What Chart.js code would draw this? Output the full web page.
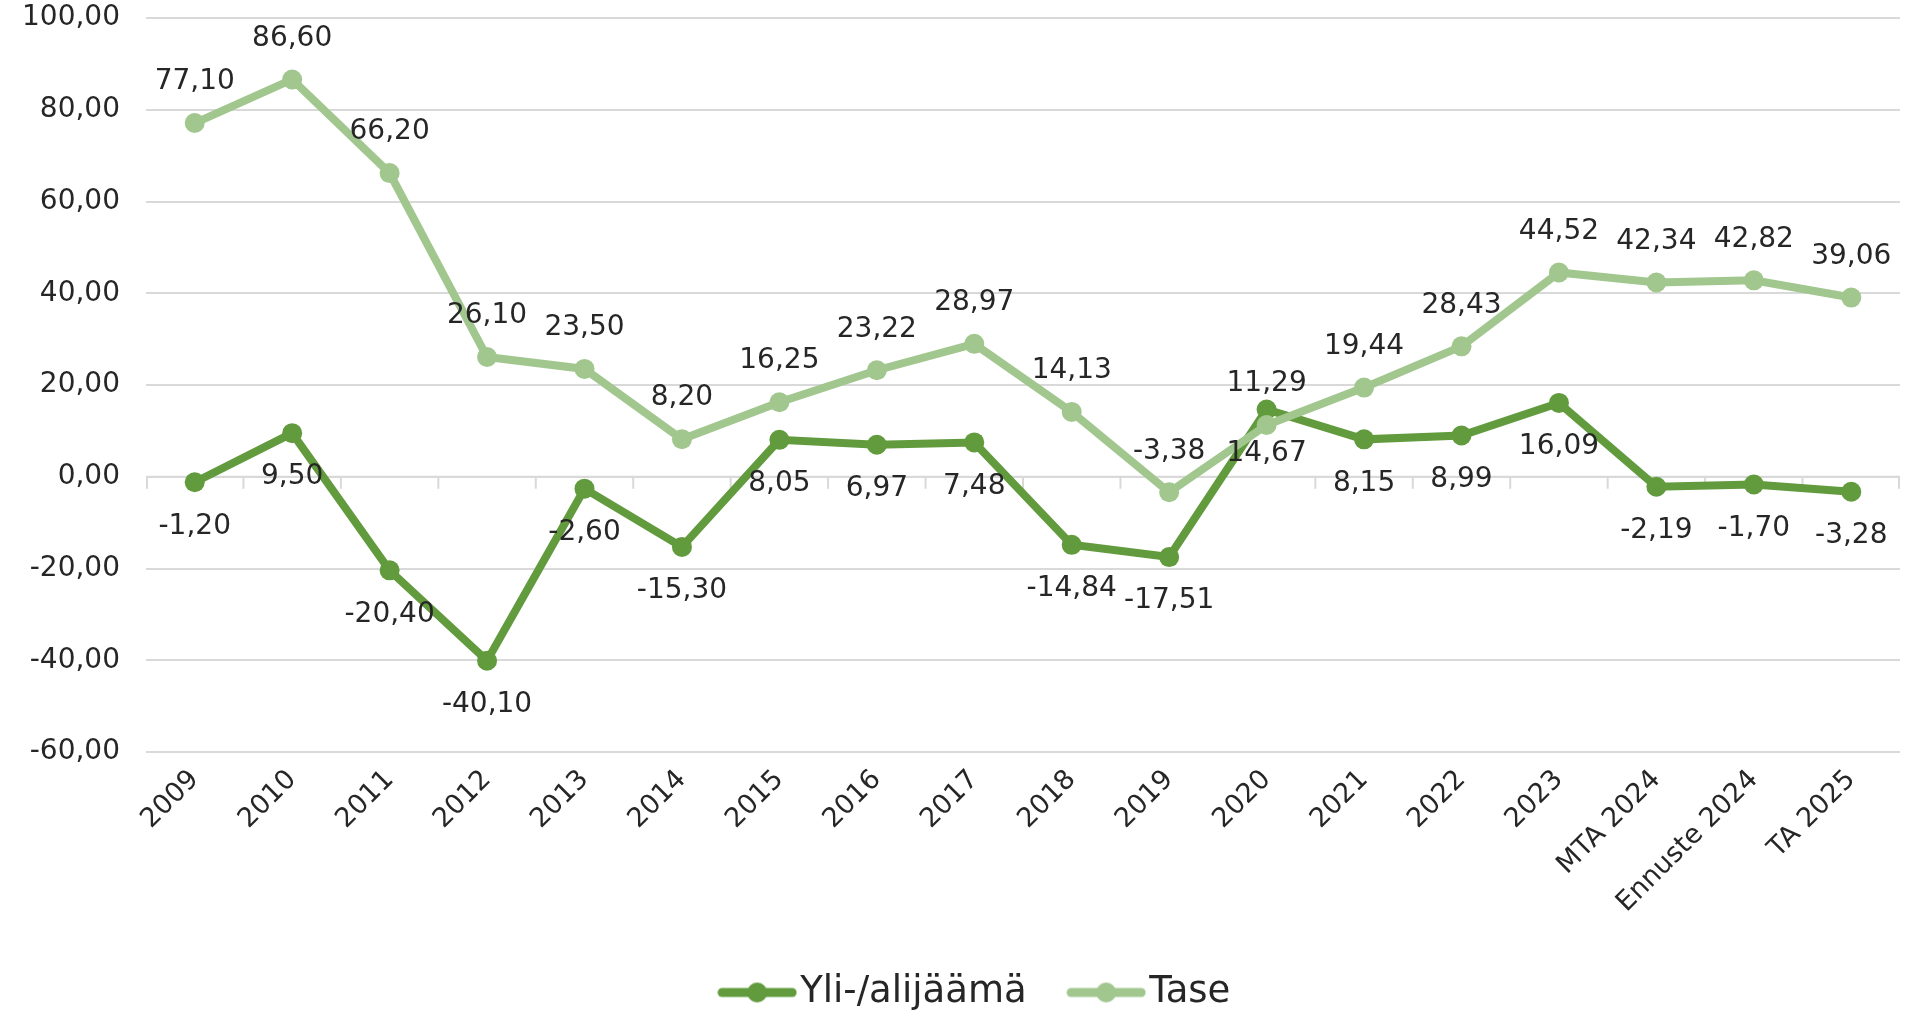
<!DOCTYPE html>
<html>
<head>
<meta charset="utf-8">
<script src="https://cdn.jsdelivr.net/npm/chart.js@4/dist/chart.umd.min.js"></script>
<style>
  html, body { margin: 0; padding: 0; background: #ffffff; }
  #wrap { width: 1910px; height: 1014px; position: relative; }
</style>
</head>
<body>
<div id="wrap"><canvas id="c" width="1910" height="1014"></canvas></div>
<script>
const categories = ["2009","2010","2011","2012","2013","2014","2015","2016","2017","2018","2019","2020","2021","2022","2023","MTA 2024","Ennuste 2024","TA 2025"];
const yliValues = [-1.20, 9.50, -20.40, -40.10, -2.60, -15.30, 8.05, 6.97, 7.48, -14.84, -17.51, 14.67, 8.15, 8.99, 16.09, -2.19, -1.70, -3.28];
const taseValues = [77.10, 86.60, 66.20, 26.10, 23.50, 8.20, 16.25, 23.22, 28.97, 14.13, -3.38, 11.29, 19.44, 28.43, 44.52, 42.34, 42.82, 39.06];
const seriesNames = ["Yli-/alijäämä", "Tase"];
const yMin = -60, yMax = 100, yStep = 20;

const darkGreen = "#629b3d";
const lightGreen = "#a1c78f";
const textColor = "#262626";
const FONT = "'DejaVu Sans', Verdana, sans-serif";

function fmt(v) { return v.toFixed(2).replace('.', ','); }

function legendMarker(color) {
  const c = document.createElement('canvas');
  c.width = 80; c.height = 24;
  const g = c.getContext('2d');
  g.strokeStyle = color; g.lineWidth = 9; g.lineCap = 'round';
  g.beginPath(); g.moveTo(5, 12); g.lineTo(75, 12); g.stroke();
  g.fillStyle = color;
  g.beginPath(); g.arc(40, 12, 10, 0, Math.PI * 2); g.fill();
  return c;
}

const dataLabels = {
  id: 'dataLabels',
  afterDatasetsDraw(chart) {
    const ctx = chart.ctx;
    ctx.save();
    ctx.font = "28px " + FONT;
    ctx.fillStyle = textColor;
    ctx.textAlign = 'center';
    ctx.textBaseline = 'middle';
    chart.data.datasets.forEach((ds, di) => {
      const meta = chart.getDatasetMeta(di);
      meta.data.forEach((pt, i) => {
        const v = ds.data[i];
        const dy = ds.labelPos === 'above' ? -41 : 44;
        ctx.fillText(fmt(v), pt.x, pt.y + dy);
      });
    });
    ctx.restore();
  }
};

const zeroTicks = {
  id: 'zeroTicks',
  beforeDatasetsDraw(chart) {
    const x = chart.scales.x, y = chart.scales.y;
    const ctx = chart.ctx;
    const y0 = y.getPixelForValue(0);
    ctx.save();
    ctx.strokeStyle = "#d9d9d9";
    ctx.lineWidth = 2;
    ctx.beginPath();
    ctx.moveTo(chart.chartArea.left, y0); ctx.lineTo(chart.chartArea.right, y0);
    const n = categories.length;
    for (let i = 0; i <= n; i++) {
      let px;
      if (i === 0) px = chart.chartArea.left + 1;
      else if (i === n) px = chart.chartArea.right - 1;
      else px = (x.getPixelForValue(i - 1) + x.getPixelForValue(i)) / 2;
      ctx.moveTo(px, y0); ctx.lineTo(px, y0 + 12);
    }
    ctx.stroke();
    ctx.restore();
  }
};

const legendShift = {
  id: 'legendShift',
  afterLayout(chart) {
    if (chart.legend) { chart.legend.left += 27; chart.legend.right += 27; }
  }
};

new Chart(document.getElementById('c'), {
  type: 'line',
  data: {
    labels: categories,
    datasets: [
      {
        label: seriesNames[0], data: yliValues, labelPos: 'below', order: 1,
        borderColor: darkGreen, backgroundColor: darkGreen, borderWidth: 8,
        pointRadius: 10, pointHoverRadius: 10, pointBackgroundColor: darkGreen, pointBorderWidth: 0,
        tension: 0
      },
      {
        label: seriesNames[1], data: taseValues, labelPos: 'above', order: 0,
        borderColor: lightGreen, backgroundColor: lightGreen, borderWidth: 8,
        pointRadius: 10, pointHoverRadius: 10, pointBackgroundColor: lightGreen, pointBorderWidth: 0,
        tension: 0
      }
    ]
  },
  options: {
    responsive: false,
    animation: false,
    devicePixelRatio: 1,
    elements: { point: { pointStyle: 'circle' } },
    layout: { padding: { top: 0, right: 1, left: 0, bottom: 0 } },
    plugins: {
      tooltip: { enabled: false },
      legend: {
        position: 'bottom',
        maxHeight: 95,
        labels: {
          usePointStyle: true,
          pointStyleWidth: 49,
          boxHeight: 20,
          padding: 55,
          color: textColor,
          font: { family: FONT, size: 37 },
          generateLabels(chart) {
            return chart.data.datasets.map((ds, i) => ({
              text: ds.label,
              pointStyle: legendMarker(ds.borderColor),
              fillStyle: ds.borderColor, strokeStyle: ds.borderColor,
              lineWidth: 0, hidden: false, datasetIndex: i, fontColor: textColor
            }));
          }
        }
      }
    },
    scales: {
      x: {
        offset: true,
        grid: { display: false },
        border: { display: false },
        ticks: {
          color: textColor, font: { family: FONT, size: 27 },
          maxRotation: 45, minRotation: 45, autoSkip: false, padding: 4
        },
        afterFit(scale) { scale.height = 167; }
      },
      y: {
        min: yMin, max: yMax,
        grid: { color: "#d9d9d9", lineWidth: 2, drawTicks: false },
        border: { display: false },
        ticks: {
          stepSize: yStep, color: textColor, font: { family: FONT, size: 28 },
          padding: 26, callback: (v) => fmt(v)
        },
        afterFit(scale) { scale.width = 146; scale.paddingTop = 18; scale.paddingBottom = 18; }
      }
    }
  },
  plugins: [zeroTicks, dataLabels, legendShift]
});
</script>
</body>
</html>
